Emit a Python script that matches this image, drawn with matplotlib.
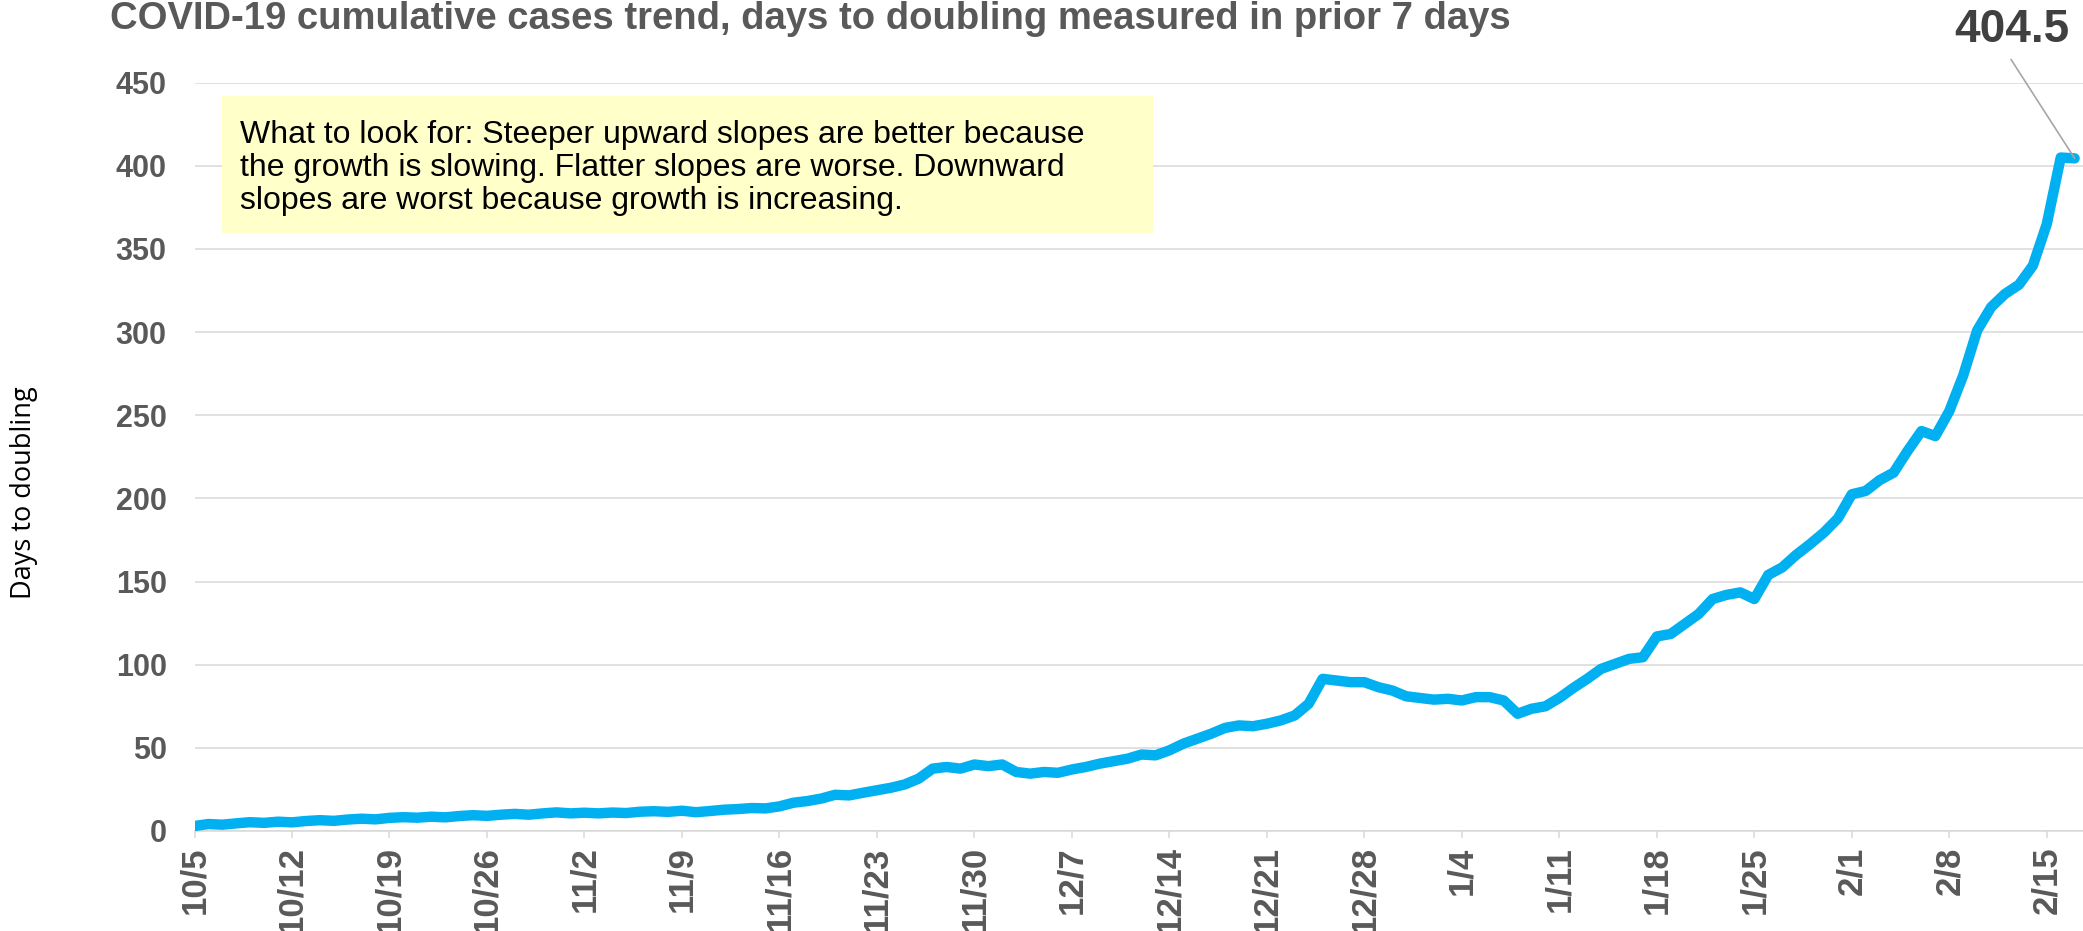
import numpy as np
import matplotlib.pyplot as plt

# days to doubling, one value per day from 10/5 to 2/17
days_to_doubling = [
    3.0, 4.2, 3.8, 4.6, 5.3, 4.9, 5.6, 5.2, 6.0, 6.5,
    6.1, 6.9, 7.4, 7.0, 7.9, 8.3, 8.0, 8.6, 8.2, 9.0,
    9.5, 9.1, 9.8, 10.3, 9.8, 10.6, 11.2, 10.6, 11.0, 10.6,
    11.1, 10.8, 11.6, 11.9, 11.5, 12.2, 11.3, 12.0, 12.8, 13.2,
    13.8, 13.6, 14.8, 17.0, 18.0, 19.5, 21.8, 21.4, 23.0, 24.5,
    26.0, 28.0, 31.5, 37.5, 38.5, 37.5, 40.0, 39.0, 40.0, 35.5,
    34.5, 35.5, 35.0, 37.0, 38.5, 40.5, 42.0, 43.5, 46.0, 45.5,
    48.5, 52.5, 55.5, 58.5, 62.0, 63.5, 63.0, 64.5, 66.5, 69.5,
    76.5, 91.5, 90.5, 89.5, 89.5, 86.5, 84.5, 81.0, 80.0, 79.0,
    79.5, 78.5, 80.5, 80.5, 78.5, 70.5, 73.5, 75.0, 80.0, 86.0,
    91.5, 97.5, 100.5, 103.5, 104.5, 117.0, 118.5, 124.5, 130.5, 139.5,
    142.0, 143.5, 139.5, 154.0, 158.5, 166.0, 172.5, 179.5, 188.0, 202.5,
    204.5, 211.0, 215.5, 228.5, 240.5, 237.5, 252.5, 274.0, 301.0, 315.0,
    323.0, 328.5, 340.0, 365.0, 405.0, 404.5,
]

week_labels = ["10/5", "10/12", "10/19", "10/26", "11/2", "11/9", "11/16",
               "11/23", "11/30", "12/7", "12/14", "12/21", "12/28", "1/4",
               "1/11", "1/18", "1/25", "2/1", "2/8", "2/15"]

last_label = "404.5"

title = "COVID-19 cumulative cases trend, days to doubling measured in prior 7 days"
note = ("What to look for: Steeper upward slopes are better because\n"
        "the growth is slowing. Flatter slopes are worse. Downward\n"
        "slopes are worst because growth is increasing.")

W, H = 2083, 931
fig = plt.figure(figsize=(W / 100, H / 100), dpi=100)
ax = fig.add_axes([194.5 / W, 1 - 831 / H, (W - 194.5) / W, (831 - 82.7) / H])

x = np.arange(len(days_to_doubling))
ax.plot(x, days_to_doubling, color="#00B0F0", lw=7.5,
        solid_capstyle="round", solid_joinstyle="round", zorder=3)

ax.set_ylim(0, 450)
ax.set_xlim(0, 135.6)
ax.set_yticks(np.arange(0, 451, 50))
ax.set_xticks(np.arange(len(week_labels)) * 7)
ax.set_xticklabels(week_labels, rotation=90)

grid_c = "#D9D9D9"
ax.grid(axis="y", color=grid_c, lw=1.1, zorder=0)
for s in ["top", "right", "left"]:
    ax.spines[s].set_visible(False)
ax.spines["bottom"].set_color(grid_c)
ax.spines["bottom"].set_linewidth(1.1)

ax.tick_params(axis="y", length=0, pad=20, labelsize=22, labelcolor="#595959")
ax.tick_params(axis="x", length=5, width=1.1, color=grid_c, pad=6,
               labelsize=25, labelcolor="#595959")
for lab in ax.get_xticklabels() + ax.get_yticklabels():
    lab.set_fontweight("bold")
    lab.set_fontfamily("Liberation Sans")

fig.text(24 / W, 1 - 493 / H, "Days to doubling", rotation=90, ha="center",
         va="center", fontsize=19.5, family="Open Sans", color="black")

fig.text(110 / W, 1 - 29 / H, title, ha="left", va="baseline", fontsize=27.5,
         fontweight="bold", family="Liberation Sans", color="#595959")

# note box
box = plt.Rectangle((222 / W, 1 - 232.5 / H), (1153 - 222) / W, (232.5 - 96) / H,
                    transform=fig.transFigure, facecolor="#FFFFC9",
                    edgecolor="none", zorder=5)
fig.patches.append(box)
fig.text(240 / W, 1 - 120 / H, note, ha="left", va="top", fontsize=23,
         family="Liberation Sans", color="black", linespacing=1.13, zorder=6)

# label for the last value
ax.annotate(last_label, xy=(x[-1], days_to_doubling[-1]),
            xytext=(2012, H - 30), textcoords="figure pixels",
            ha="center", va="center", fontsize=33, fontweight="bold",
            family="Liberation Sans", color="#404040", annotation_clip=False,
            arrowprops=dict(arrowstyle="-", color="#A6A6A6", lw=1.2,
                            relpos=(0.45, 0), shrinkA=4, shrinkB=0))

fig.savefig("out.png", dpi=100)
